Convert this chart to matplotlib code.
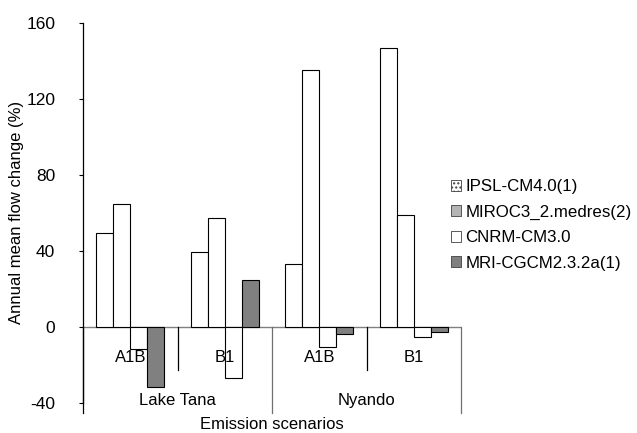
import matplotlib
matplotlib.use("Agg")
import matplotlib.pyplot as plt
from matplotlib.patches import Patch
import numpy as np

plt.rcParams['font.family'] = ['Liberation Sans', 'DejaVu Sans']

basins = ["Lake Tana", "Nyando"]
scenarios = ["A1B", "B1", "A1B", "B1"]
series = ["IPSL-CM4.0(1)", "MIROC3_2.medres(2)", "CNRM-CM3.0", "MRI-CGCM2.3.2a(1)"]
values = {
    "IPSL-CM4.0(1)":      [49.3, 39.4, 33.0, 146.9],
    "MIROC3_2.medres(2)": [64.8, 57.1, 135.1, 58.7],
    "CNRM-CM3.0":         [-11.4, -26.8, -10.3, -5.4],
    "MRI-CGCM2.3.2a(1)":  [-31.7, 24.7, -3.7, -2.8],
}
bar_colors = ["white", "white", "white", "#808080"]
legend_colors = ["white", "#b4b4b4", "white", "#808080"]
legend_hatches = ["....", None, None, None]
yticks = [-40, 0, 40, 80, 120, 160]

fig = plt.figure(figsize=(6.37, 4.33), dpi=100)
ax = fig.add_axes([83/637, 1-403/433, (461-83)/637, (403-22.7)/433])

x = np.arange(len(scenarios))
w = 0.18
for i, s in enumerate(series):
    ax.bar(x - 1.5*w + i*w, values[s], width=w, color=bar_colors[i],
           edgecolor="black", linewidth=0.8, zorder=2)

ax.set_xlim(-0.5, len(scenarios)-0.5)
ax.set_ylim(-40, 160)
ax.set_yticks(yticks)
ax.set_yticklabels([str(t) for t in yticks], fontsize=12.5)
ax.tick_params(axis='y', direction='out', length=3, width=0.8, pad=17, color='black')
ax.set_xticks([])
for sp in ["top", "right", "bottom"]:
    ax.spines[sp].set_visible(False)
ax.spines["left"].set_linewidth(0.9)

ax.axhline(0, color="#808080", linewidth=1.0, zorder=1)

def py2v(py):
    return (327 - py) / 1.902

# scenario labels
for xi, lab in zip(x, scenarios):
    ax.text(xi, py2v(358), lab, ha="center", va="center", fontsize=12)
# basin labels
for bi, b in enumerate(basins):
    ax.text(bi*2 + 0.5, py2v(401), b, ha="center", va="center", fontsize=12)
ax.text(1.5, py2v(425), "Emission scenarios", ha="center", va="center",
        fontsize=12, clip_on=False)

# separators
for xs in [0.5, 2.5]:
    ax.plot([xs, xs], [0, py2v(370)], color="black", linewidth=0.9, clip_on=False)
for xs in [-0.5, 1.5, 3.5]:
    ax.plot([xs, xs], [0, py2v(413)], color="#707070" if xs != -0.5 else "black",
            linewidth=0.9, clip_on=False)

ax.set_ylabel("Annual mean flow change (%)", fontsize=12)
ax.yaxis.set_label_coords(-(83-24)/378, (403-212)/380.3)

handles = [Patch(facecolor=legend_colors[i], edgecolor="#404040",
                 hatch=legend_hatches[i], linewidth=0.6, label=s)
           for i, s in enumerate(series)]
plt.rcParams['hatch.color'] = '#909090'
fig.legend(handles=handles, loc="center left",
           bbox_to_anchor=(444/637, 1-225/433), frameon=False, fontsize=12.2,
           handlelength=0.6, handleheight=0.6, handletextpad=0.25,
           labelspacing=0.62, borderaxespad=0)

fig.savefig("out.png", dpi=100)
